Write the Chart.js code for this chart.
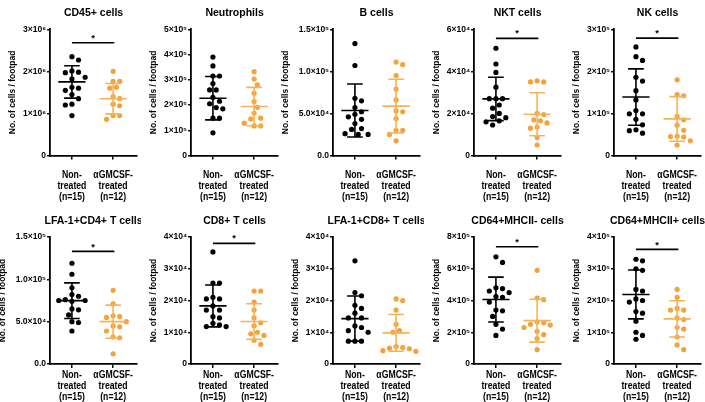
<!DOCTYPE html>
<html>
<head>
<meta charset="utf-8">
<script src="https://cdn.jsdelivr.net/npm/chart.js@4.4.1/dist/chart.umd.min.js"></script>
<style>
  html, body { margin: 0; padding: 0; background: #fff; overflow: hidden; }
  #wrap { position: relative; width: 705px; height: 402px; }
  canvas { position: absolute; }
</style>
</head>
<body>
<div id="wrap"></div>
<script>
// ---- data (values are in units of `units[i]`) ----
const titles = ['CD45+ cells', 'Neutrophils', 'B cells', 'NKT cells', 'NK cells',
  'LFA-1+CD4+ T cells', 'CD8+ T cells', 'LFA-1+CD8+ T cells', 'CD64+MHCII- cells', 'CD64+MHCII+ cells'];
const groupNames = [['Non-', 'treated'], ['αGMCSF-', 'treated']];
const groupSizes = [15, 12];
const units = [1e6, 1e5, 1e4, 1e4, 1e5, 1e4, 1e4, 1e4, 1e5, 1e5];
const yMax = [3, 5, 15, 6, 3, 15, 4, 4, 8, 4];
const yStep = [1, 1, 5, 2, 1, 5, 1, 1, 2, 1];
const yTickLabels = [
  ['0', '1×10⁶', '2×10⁶', '3×10⁶'],
  ['0', '1×10⁵', '2×10⁵', '3×10⁵', '4×10⁵', '5×10⁵'],
  ['0.0', '5.0×10⁴', '1.0×10⁵', '1.5×10⁵'],
  ['0', '2×10⁴', '4×10⁴', '6×10⁴'],
  ['0', '1×10⁵', '2×10⁵', '3×10⁵'],
  ['0.0', '5.0×10⁴', '1.0×10⁵', '1.5×10⁵'],
  ['0', '1×10⁴', '2×10⁴', '3×10⁴', '4×10⁴'],
  ['0', '1×10⁴', '2×10⁴', '3×10⁴', '4×10⁴'],
  ['0', '2×10⁵', '4×10⁵', '6×10⁵', '8×10⁵'],
  ['0', '1×10⁵', '2×10⁵', '3×10⁵', '4×10⁵']
];
const nonTreated = [
  [2.35, 2.27, 2.01, 1.98, 1.97, 1.86, 1.82, 1.62, 1.6, 1.55, 1.45, 1.35, 1.22, 1.2, 0.95],
  [3.9, 3.55, 3.15, 3.15, 2.85, 2.6, 2.6, 2.3, 2.15, 2.05, 1.9, 1.85, 1.48, 1.48, 0.9],
  [13.3, 10.7, 6.5, 6.8, 5.7, 5.2, 4.9, 4.6, 4.3, 3.8, 3.2, 3.1, 2.6, 2.5, 2.5],
  [5.1, 4.35, 3.95, 3.25, 2.7, 2.7, 2.7, 2.4, 2.25, 2.0, 1.85, 1.8, 1.65, 1.6, 1.45],
  [2.58, 2.35, 2.26, 1.86, 1.77, 1.54, 1.32, 1.07, 0.99, 0.99, 0.86, 0.73, 0.61, 0.59, 0.53],
  [11.9, 10.6, 9.0, 8.2, 8.0, 7.6, 7.5, 7.5, 7.4, 6.5, 6.4, 5.8, 5.0, 4.9, 3.9],
  [3.53, 2.55, 2.55, 2.1, 2.05, 2.05, 1.83, 1.7, 1.7, 1.49, 1.45, 1.28, 1.23, 1.18, 1.18],
  [3.25, 2.25, 2.15, 1.85, 1.75, 1.6, 1.45, 1.45, 1.2, 1.15, 1.05, 1.0, 0.72, 0.72, 0.72],
  [6.75, 6.4, 4.8, 4.75, 4.6, 4.5, 4.25, 4.2, 3.9, 3.4, 3.35, 3.0, 2.5, 2.2, 1.8],
  [3.3, 3.25, 3.0, 2.95, 2.35, 2.3, 2.05, 2.0, 1.95, 1.65, 1.6, 1.35, 1.0, 0.9, 0.78]
];
const treated = [
  [2.0, 1.76, 1.76, 1.62, 1.6, 1.4, 1.35, 1.22, 1.18, 0.95, 0.95, 0.86],
  [3.32, 3.03, 2.8, 2.47, 2.14, 1.91, 1.68, 1.48, 1.45, 1.28, 1.17, 1.17],
  [11.1, 10.8, 9.5, 7.9, 6.6, 5.3, 5.2, 4.4, 3.0, 3.0, 2.5, 1.75],
  [3.55, 3.5, 3.5, 2.0, 1.95, 1.7, 1.65, 1.55, 1.35, 1.3, 0.85, 0.5],
  [1.8, 1.45, 1.42, 0.93, 0.85, 0.72, 0.6, 0.46, 0.45, 0.44, 0.35, 0.25],
  [8.7, 7.1, 5.7, 5.6, 5.5, 5.0, 4.5, 4.4, 3.9, 3.2, 3.1, 1.2],
  [2.3, 2.3, 1.95, 1.7, 1.45, 1.3, 1.2, 1.0, 0.95, 0.9, 0.75, 0.62],
  [2.05, 2.0, 1.7, 1.25, 1.05, 1.0, 0.55, 0.52, 0.5, 0.48, 0.42, 0.4],
  [5.9, 4.15, 4.05, 2.65, 2.6, 2.5, 2.45, 2.3, 2.05, 1.85, 1.6, 0.9],
  [2.35, 2.1, 1.75, 1.7, 1.7, 1.45, 1.4, 1.15, 1.1, 0.85, 0.6, 0.45]
];
// mean and SD as drawn
const meanNon = [1.75, 2.27, 5.35, 2.69, 1.39, 7.48, 1.83, 1.43, 4.06, 2.19];
const sdNon = [0.385, 0.86, 3.15, 1.03, 0.67, 2.1, 0.66, 0.71, 1.41, 0.77];
const meanTrt = [1.35, 1.94, 5.87, 1.96, 0.87, 5.0, 1.34, 0.98, 2.73, 1.42];
const sdTrt = [0.36, 0.76, 3.2, 1.02, 0.53, 1.95, 0.56, 0.58, 1.35, 0.57];
// significance bars (null = none)
const sigBar = [2.68, null, null, 5.57, 2.79, 13.3, 3.8, null, 7.39, 3.61];

// ---- layout ----
const axisX = [50, 190.7, 333, 474, 614];
const rowTop = [0, 200];
const rowH = [205, 202];
const plotTop = [29.3, 37];
const xAxisH = [49.5, 38];
const xLabelOffset = [19.6, 11];   // axis -> centre of first label line
const xLabelLine = 10.9;
const yLabelGap = [37, 37, 47, 37, 37, 47, 37, 37, 37, 37];
const plotW = 87;
const xMin = 0.47, xMax = 2.58;
const BLACK = '#000000';
const ORANGE = '#F4A23A';
const ORANGE_LINE = '#F6B356';
const FONT = "'Liberation Sans', Arial, sans-serif";

// spread the dots of one column so they do not overlap (like a Prism scatter dot plot)
function swarm(vals, yMaxU) {
  const pxPer = 126.5 / yMaxU;
  const pxPerX = plotW / (xMax - xMin);
  const order = vals.map((v, i) => i).sort((a, b) => vals[b] - vals[a]);
  const placed = [];
  const off = new Array(vals.length).fill(0);
  const minD = 6.6, step = 3.3;
  order.forEach(i => {
    const py = vals[i] * pxPer;
    for (let k = 0; k < 30; k++) {
      const dx = (k % 2 ? 1 : -1) * Math.ceil(k / 2) * step;
      if (placed.every(p => Math.hypot(p[0] - dx, p[1] - py) >= minD)) {
        off[i] = dx;
        placed.push([dx, py]);
        break;
      }
    }
  });
  return off.map(d => d / pxPerX);
}

function errorLines(c, m, s, u) {
  const mw = 0.33, cw = 0.19;
  return [
    { x: c - mw, y: m * u }, { x: c + mw, y: m * u }, { x: c, y: null },
    { x: c, y: (m - s) * u }, { x: c, y: (m + s) * u }, { x: c, y: null },
    { x: c - cw, y: (m + s) * u }, { x: c + cw, y: (m + s) * u }, { x: c, y: null },
    { x: c - cw, y: (m - s) * u }, { x: c + cw, y: (m - s) * u }
  ];
}

// title, significance star and the (slightly condensed) group labels
const decor = {
  id: 'decor',
  afterDraw(chart) {
    const p = chart.options.plugins.decor;
    const { ctx, chartArea } = chart;
    const xs = chart.scales.x, ys = chart.scales.y;
    ctx.save();
    ctx.fillStyle = '#000';
    ctx.textAlign = 'center';
    ctx.textBaseline = 'middle';
    ctx.font = 'bold 10.5px ' + FONT;
    ctx.fillText(p.title, (chartArea.left + chartArea.right) / 2, chartArea.top - 16.3);
    if (p.sig !== null) {
      ctx.font = 'bold 9.5px ' + FONT;
      ctx.fillText('*', (xs.getPixelForValue(1) + xs.getPixelForValue(2.03)) / 2, ys.getPixelForValue(p.sig) - 4.5);
    }
    ctx.font = 'bold 10px ' + FONT;
    [0, 1].forEach(g => {
      const lines = [...groupNames[g], '(n=' + groupSizes[g] + ')'];
      const cx = xs.getPixelForValue(g + 1);
      lines.forEach((t, k) => {
        ctx.save();
        ctx.translate(cx, chartArea.bottom + p.labelOffset + k * xLabelLine);
        ctx.scale(0.87, 1);
        ctx.fillText(t, 0, 0);
        ctx.restore();
      });
    });
    ctx.restore();
  }
};

const wrap = document.getElementById('wrap');
for (let i = 0; i < 10; i++) {
  const row = Math.floor(i / 5), col = i % 5;
  const u = units[i];
  const yW = yLabelGap[i] + 5.1;
  const cv = document.createElement('canvas');
  const w = Math.round(yW + plotW + 4);
  cv.width = w; cv.height = rowH[row];
  cv.style.left = (axisX[col] - yW) + 'px';
  cv.style.top = rowTop[row] + 'px';
  wrap.appendChild(cv);

  const offA = swarm(nonTreated[i], yMax[i]);
  const offB = swarm(treated[i], yMax[i]);
  const datasets = [
    { data: errorLines(1, meanNon[i], sdNon[i], u), showLine: true, pointRadius: 0, borderColor: BLACK, borderWidth: 1.6, spanGaps: false },
    { data: errorLines(2, meanTrt[i], sdTrt[i], u), showLine: true, pointRadius: 0, borderColor: ORANGE_LINE, borderWidth: 1.6, spanGaps: false },
    { data: nonTreated[i].map((v, k) => ({ x: 1 + offA[k], y: v * u })), pointRadius: 2.6, pointBackgroundColor: BLACK, pointBorderWidth: 0 },
    { data: treated[i].map((v, k) => ({ x: 2 + offB[k], y: v * u })), pointRadius: 2.6, pointBackgroundColor: ORANGE, pointBorderWidth: 0 }
  ];
  if (sigBar[i] !== null) {
    datasets.push({ data: [{ x: 1, y: sigBar[i] * u }, { x: 2.03, y: sigBar[i] * u }], showLine: true, pointRadius: 0, borderColor: BLACK, borderWidth: 1.6 });
  }

  new Chart(cv, {
    type: 'scatter',
    data: { datasets },
    options: {
      responsive: false,
      animation: false,
      layout: { padding: { top: plotTop[row], right: 4, left: 0, bottom: 0 } },
      plugins: {
        legend: { display: false },
        tooltip: { enabled: false },
        decor: { title: titles[i], sig: sigBar[i] === null ? null : sigBar[i] * u, labelOffset: xLabelOffset[row] }
      },
      scales: {
        x: {
          type: 'linear',
          min: xMin,
          max: xMax,
          afterFit: s => { s.height = xAxisH[row]; },
          afterBuildTicks: s => { s.ticks = [{ value: 1 }, { value: 2 }]; },
          grid: { drawOnChartArea: false, drawTicks: true, tickLength: 4, color: BLACK, lineWidth: 1.5 },
          border: { display: true, color: BLACK, width: 1.8 },
          ticks: { display: false, autoSkip: false, maxRotation: 0 }
        },
        y: {
          type: 'linear',
          min: 0,
          max: yMax[i] * u,
          afterFit: s => { s.width = yW; },
          grid: { drawOnChartArea: false, drawTicks: true, tickLength: 3, color: BLACK, lineWidth: 1.5 },
          border: { display: true, color: BLACK, width: 1.8 },
          ticks: {
            stepSize: yStep[i] * u,
            padding: 1,
            color: BLACK,
            font: { family: FONT, size: 8.5, weight: 'bold' },
            callback: (v, k) => yTickLabels[i][k]
          },
          title: {
            display: true,
            text: 'No. of cells / footpad',
            color: BLACK,
            padding: 0,
            font: { family: FONT, size: 8.5, weight: 'bold', lineHeight: 1.2 }
          }
        }
      }
    },
    plugins: [decor]
  });
}
</script>
</body>
</html>
